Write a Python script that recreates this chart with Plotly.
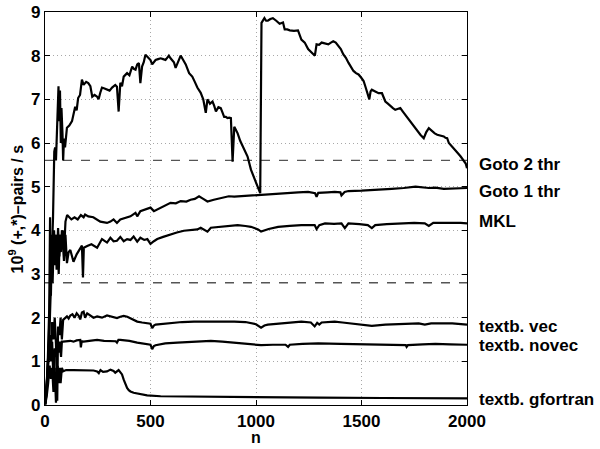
import plotly.graph_objects as go

# ---------------- data ----------------
goto2_n = [1, 10, 20, 30, 38, 44, 48, 52, 57, 60, 62, 64, 67, 71, 75, 78, 83, 86, 90, 95, 104, 115, 128, 143, 150,
           157, 166, 175, 183, 195, 205, 215, 224, 235, 247, 254, 262, 270, 282, 294, 306, 318, 333, 341, 349, 357,
           365, 373, 389, 400, 413, 421, 429, 437, 445, 452, 460, 468, 476, 484, 492, 500, 508, 516, 524, 536, 548,
           560, 571, 579, 587, 595, 603, 611, 619, 631, 643, 655, 667, 683, 698, 710, 722, 738, 750, 762, 770, 782,
           794, 802, 810, 822, 833, 841, 849, 857, 865, 873, 881, 889, 897, 905, 913, 925, 937, 948, 960, 976, 988,
           1000, 1010, 1020, 1026, 1033, 1040, 1048, 1056, 1068, 1080, 1096, 1112, 1128, 1136, 1148, 1160, 1180,
           1199, 1215, 1231, 1247, 1259, 1271, 1279, 1287, 1299, 1311, 1327, 1343, 1355, 1366, 1378, 1390, 1402,
           1414, 1426, 1438, 1450, 1462, 1474, 1486, 1498, 1510, 1518, 1525, 1531, 1537, 1543, 1549, 1565, 1581,
           1597, 1613, 1625, 1637, 1649, 1660, 1672, 1684, 1696, 1708, 1720, 1732, 1744, 1756, 1768, 1779, 1795,
           1807, 1819, 1835, 1847, 1859, 1875, 1890, 1898, 1906, 1914, 1922, 1934, 1946, 1958, 1970, 1982, 1994, 2000]
goto2_v = [0.1, 0.6, 1.5, 3.0, 4.3, 5.8, 5.9, 5.6, 6.3, 7.1, 6.9, 7.3, 6.5, 7.2, 6.0, 6.8, 6.2, 5.6, 6.1, 5.9, 6.35,
           6.4, 6.5, 6.83, 6.75, 7.03, 7.1, 7.45, 7.33, 7.4, 7.37, 7.3, 7.06, 7.1, 7.06, 7.0, 7.15, 7.27, 7.25, 7.22,
           7.2, 7.27, 7.33, 7.29, 6.72, 7.38, 7.3, 7.52, 7.6, 7.55, 7.75, 7.7, 7.68, 7.8, 7.83, 7.37, 7.75, 7.85, 8.02,
           7.98, 7.95, 7.9, 7.8, 7.85, 7.9, 7.92, 7.94, 7.92, 7.9, 7.95, 8.0, 7.94, 7.9, 7.85, 7.72, 7.88, 8.0, 7.9,
           7.8, 7.6, 7.52, 7.4, 7.27, 7.15, 7.0, 6.69, 7.0, 6.9, 6.95, 6.85, 6.72, 6.82, 6.8, 6.7, 6.6, 6.6, 6.57,
           6.58, 6.57, 5.57, 6.37, 6.3, 6.22, 6.05, 5.92, 5.8, 5.69, 5.39, 5.25, 5.12, 5.0, 4.85, 8.75, 8.82, 8.86,
           8.8, 8.8, 8.84, 8.86, 8.8, 8.73, 8.76, 8.6, 8.6, 8.58, 8.57, 8.58, 8.37, 8.3, 8.15, 8.1, 8.03, 8.0, 8.26,
           8.25, 8.3, 8.28, 8.26, 8.3, 8.33, 8.3, 8.22, 8.15, 8.03, 7.95, 7.84, 7.75, 7.65, 7.6, 7.57, 7.5, 7.42, 7.3,
           7.18, 7.1, 7.0, 7.18, 7.22, 7.18, 7.14, 7.14, 6.95, 6.9, 6.84, 6.8, 6.76, 6.78, 6.8, 6.72, 6.64, 6.56, 6.49,
           6.41, 6.34, 6.26, 6.19, 6.11, 6.25, 6.34, 6.26, 6.22, 6.19, 6.17, 6.15, 6.12, 6.11, 6.0, 5.96, 5.9, 5.84,
           5.76, 5.69, 5.6, 5.53, 5.42]

goto1_n = [1, 12, 20, 24, 28, 33, 38, 43, 48, 52, 58, 62, 68, 72, 78, 84, 90, 97, 105, 115, 125, 140, 155, 170,
           183, 190, 205, 229, 262, 294, 310, 325, 341, 357, 380, 405, 429, 437, 452, 475, 500, 516, 540, 562, 595,
           620, 643, 670, 690, 710, 730, 750, 770, 800, 833, 871, 897, 950, 1010, 1070, 1136, 1200, 1247, 1280,
           1287, 1295, 1340, 1373, 1400, 1405, 1420, 1438, 1500, 1560, 1643, 1700, 1756, 1819, 1850, 1890, 1950, 2000]
goto1_v = [0.05, 0.8, 2.2, 4.3, 2.5, 3.8, 3.5, 4.0, 3.2, 3.9, 3.6, 4.05, 3.4, 3.9, 3.7, 4.0, 3.5, 4.2, 4.35, 4.3,
           4.25, 4.3, 4.25, 4.35, 4.3, 4.36, 4.32, 4.3, 4.2, 4.17, 4.2, 4.25, 4.17, 4.25, 4.28, 4.32, 4.4, 4.32, 4.44,
           4.48, 4.52, 4.44, 4.5, 4.55, 4.63, 4.62, 4.67, 4.66, 4.7, 4.72, 4.78, 4.72, 4.66, 4.7, 4.74, 4.78, 4.77,
           4.79, 4.81, 4.83, 4.86, 4.87, 4.88, 4.85, 4.77, 4.86, 4.87, 4.88, 4.87, 4.8, 4.88, 4.9, 4.91, 4.92, 4.95,
           4.97, 5.0, 4.97, 4.98, 4.95, 4.97, 4.97]

mkl_n = [1, 10, 18, 26, 32, 36, 42, 46, 50, 55, 60, 65, 70, 75, 80, 90, 97, 104, 112, 120, 135, 150, 167, 175, 180,
         184, 200, 220, 247, 270, 294, 310, 325, 341, 357, 373, 389, 405, 420, 437, 452, 470, 485, 500, 516, 532,
         560, 595, 625, 658, 690, 722, 738, 770, 786, 833, 849, 881, 913, 950, 976, 1010, 1024, 1060, 1105, 1160,
         1215, 1278, 1287, 1300, 1327, 1370, 1405, 1421, 1438, 1490, 1530, 1549, 1565, 1620, 1690, 1750, 1800, 1819,
         1840, 1930, 1970, 2000]
mkl_v = [0.02, 0.5, 1.5, 3.0, 3.9, 2.8, 3.8, 3.3, 3.9, 3.1, 3.7, 3.0, 3.9, 3.5, 4.0, 3.3, 3.9, 3.25, 3.5, 3.55,
         3.28, 3.45, 3.6, 3.65, 2.92, 3.6, 3.64, 3.68, 3.6, 3.8, 3.72, 3.83, 3.75, 3.76, 3.85, 3.75, 3.8, 3.78, 3.86,
         3.74, 3.83, 3.78, 3.8, 3.69, 3.75, 3.8, 3.85, 3.91, 3.95, 3.99, 4.0, 4.02, 4.06, 3.97, 4.06, 4.08, 4.1, 4.1,
         4.12, 4.1, 4.08, 4.02, 3.97, 4.03, 4.08, 4.1, 4.12, 4.12, 4.03, 4.12, 4.16, 4.15, 4.16, 4.05, 4.16, 4.14,
         4.12, 4.05, 4.12, 4.14, 4.16, 4.17, 4.16, 4.1, 4.17, 4.18, 4.17, 4.16]

vec_n = [1, 8, 15, 22, 28, 34, 40, 46, 52, 58, 62, 68, 74, 80, 86, 95, 104, 112, 120, 130, 140, 150, 160, 167, 175,
         183, 190, 200, 214, 230, 247, 270, 294, 310, 325, 341, 357, 373, 390, 405, 420, 437, 460, 484, 500, 508,
         516, 524, 560, 595, 650, 706, 738, 786, 840, 897, 950, 976, 1000, 1024, 1040, 1056, 1100, 1136, 1215, 1260,
         1278, 1290, 1300, 1311, 1373, 1410, 1453, 1500, 1549, 1613, 1700, 1771, 1800, 1830, 1930, 2000]
vec_v = [0.02, 0.4, 1.1, 1.6, 1.2, 1.9, 1.5, 2.0, 1.4, 0.1, 1.8, 1.6, 2.0, 1.5, 1.95, 2.0, 2.03, 1.98, 2.05, 2.08,
         2.0, 2.1, 2.04, 1.96, 2.12, 2.14, 2.0, 2.1, 2.05, 2.0, 2.03, 2.0, 2.05, 2.03, 2.0, 1.99, 2.02, 2.04, 2.02,
         1.99, 1.95, 1.91, 1.89, 1.88, 1.86, 1.76, 1.82, 1.84, 1.86, 1.88, 1.9, 1.91, 1.91, 1.91, 1.92, 1.91, 1.9,
         1.87, 1.85, 1.77, 1.82, 1.84, 1.86, 1.87, 1.91, 1.89, 1.8, 1.88, 1.84, 1.89, 1.91, 1.89, 1.87, 1.85, 1.81,
         1.84, 1.86, 1.87, 1.84, 1.87, 1.87, 1.84]

novec_n = [1, 8, 15, 22, 28, 34, 40, 46, 52, 58, 64, 70, 76, 80, 86, 100, 120, 135, 150, 167, 170, 174, 183, 210,
           247, 280, 310, 335, 341, 348, 357, 400, 437, 470, 490, 500, 508, 516, 524, 570, 627, 700, 786, 840, 881,
           950, 1024, 1080, 1140, 1152, 1160, 1220, 1295, 1400, 1530, 1650, 1710, 1714, 1720, 1790, 1850, 1920, 2000]
novec_v = [0.01, 0.3, 0.9, 1.4, 1.0, 1.45, 0.5, 1.3, 1.1, 1.4, 1.2, 1.45, 1.1, 1.45, 1.45, 1.46, 1.47, 1.45, 1.48,
           1.49, 1.32, 1.46, 1.45, 1.47, 1.49, 1.47, 1.47, 1.46, 1.43, 1.49, 1.49, 1.47, 1.43, 1.41, 1.39, 1.38, 1.28,
           1.35, 1.37, 1.41, 1.43, 1.45, 1.47, 1.45, 1.43, 1.41, 1.37, 1.38, 1.38, 1.33, 1.38, 1.40, 1.41, 1.40, 1.39,
           1.38, 1.37, 1.33, 1.37, 1.39, 1.40, 1.39, 1.38]

gfort_n = [1, 8, 15, 22, 28, 34, 40, 46, 52, 56, 60, 64, 70, 74, 80, 86, 100, 135, 170, 200, 230, 247, 255, 263, 275,
           294, 310, 325, 333, 349, 357, 365, 373, 381, 389, 397, 405, 420, 437, 460, 484, 548, 706, 865, 1000, 1300,
           1600, 2000]
gfort_v = [0.01, 0.2, 0.5, 0.9, 0.6, 0.85, 0.3, 0.85, 0.05, 0.5, 0.9, 0.5, 0.85, 0.5, 0.85, 0.77, 0.8, 0.8, 0.8, 0.8,
           0.79, 0.77, 0.73, 0.8, 0.76, 0.77, 0.81, 0.78, 0.74, 0.8, 0.74, 0.7, 0.58, 0.47, 0.39, 0.34, 0.31, 0.28,
           0.26, 0.24, 0.22, 0.2, 0.19, 0.18, 0.18, 0.17, 0.16, 0.15]

series = [
    ("Goto 2 thr", goto2_n, goto2_v),
    ("Goto 1 thr", goto1_n, goto1_v),
    ("MKL", mkl_n, mkl_v),
    ("textb. vec", vec_n, vec_v),
    ("textb. novec", novec_n, novec_v),
    ("textb. gfortran", gfort_n, gfort_v),
]
label_y = [5.5, 4.89, 4.2, 1.8, 1.36, 0.12]
peak_levels = [5.6, 2.8]
x_range = [0, 2000]
x_ticks = [0, 500, 1000, 1500, 2000]
y_ticks = list(range(0, 10))

FONT = "Liberation Sans, Arial, Helvetica, sans-serif"

fig = go.Figure()
for lvl in peak_levels:
    fig.add_trace(go.Scatter(x=x_range, y=[lvl, lvl], mode="lines",
                             line=dict(color="#555555", width=1.3, dash="dash"),
                             showlegend=False, hoverinfo="skip"))
for name, xs, ys in series:
    fig.add_trace(go.Scatter(x=xs, y=ys, mode="lines", name=name,
                             line=dict(color="black", width=2.2), showlegend=False))

for (name, _, _), ly in zip(series, label_y):
    fig.add_annotation(x=1.024, xref="paper", y=ly, yref="y", text=name, showarrow=False,
                       xanchor="left", yanchor="middle",
                       font=dict(family=FONT, size=17, color="black", weight="bold"))

fig.add_annotation(x=-0.069, xref="paper", y=0.5, yref="paper",
                   text="10<sup>9</sup> (+,*)–pairs / s", textangle=-90, showarrow=False,
                   xanchor="center", yanchor="middle",
                   font=dict(family=FONT, size=16, color="black", weight="bold"))
fig.add_annotation(x=0.5, xref="paper", y=-0.083, yref="paper", text="n", showarrow=False,
                   xanchor="center", yanchor="middle",
                   font=dict(family=FONT, size=16, color="black", weight="bold"))

axis_common = dict(showline=True, linecolor="black", linewidth=1.3, mirror="ticks",
                   ticks="inside", ticklen=5, tickcolor="black", tickwidth=1,
                   showgrid=True, gridcolor="#a8a8a8", griddash="1px,3px", gridwidth=1,
                   zeroline=False, automargin=False,
                   tickfont=dict(family=FONT, size=17, color="black", weight="bold"))

fig.update_xaxes(range=x_range, tickvals=x_ticks, **axis_common)
fig.update_yaxes(range=[0, 9], tickvals=y_ticks, **axis_common)

fig.update_layout(width=600, height=449, margin=dict(l=45, r=133, t=12, b=44, autoexpand=False),
                  paper_bgcolor="white", plot_bgcolor="white", showlegend=False)

# remove the browser's default 8px body margin so the figure fills the window exactly
fig.write_html("out.html", config={"displayModeBar": False},
               post_script="document.body.style.margin='0';document.body.style.overflow='hidden';")
